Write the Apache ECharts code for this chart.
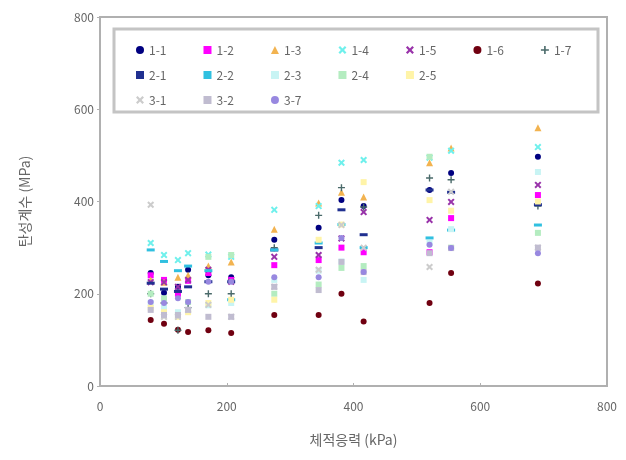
<!DOCTYPE html>
<html>
<head>
<meta charset="utf-8">
<script src="https://cdn.jsdelivr.net/npm/echarts@6/dist/echarts.min.js"></script>
<style>
  html, body { margin: 0; padding: 0; background: #fff; }
  #chart { width: 626px; height: 460px; }
</style>
</head>
<body>
<div id="chart"></div>
<script>
// 체적응력 (kPa) - shared x positions of the test stages
const stress = [80, 101, 123, 139, 171, 207, 275, 345, 381, 416, 520, 554, 691]

// 탄성계수 (MPa) per specimen
const s1_1 = [245, 202, 215, 252, 240, 236, 317, 343, 403, 390, 425, 462, 497]
const s1_2 = [240, 230, 200, 228, 245, 230, 262, 273, 300, 290, 290, 364, 414]
const s1_3 = [230, 225, 236, 240, 260, 269, 340, 397, 420, 410, 484, 516, 560]
const s1_4 = [310, 284, 273, 288, 285, 280, 382, 390, 484, 490, 495, 510, 518]
const s1_5 = [225, 225, 215, 230, 252, 226, 280, 284, 320, 377, 360, 399, 436]
const s1_6 = [143, 135, 122, 117, 121, 115, 154, 154, 200, 140, 180, 245, 222]
const s1_7 = [200, 180, 121, 170, 200, 200, 300, 370, 430, 388, 451, 447, 390]
const s2_1 = [223, 210, 205, 215, 226, 226, 295, 300, 382, 328, 425, 420, 393]
const s2_2 = [295, 270, 250, 260, 250, 187, 295, 310, 350, 300, 321, 338, 349]
const s2_3 = [180, 170, 160, 165, 175, 180, 230, 250, 270, 230, 310, 340, 464]
const s2_4 = [200, 190, 154, 182, 280, 284, 200, 220, 256, 260, 497, 300, 332]
const s2_5 = [170, 160, 150, 160, 180, 187, 187, 317, 350, 442, 403, 380, 400]
const s3_1 = [393, 150, 150, 165, 176, 150, 215, 252, 349, 300, 258, 421, 300]
const s3_2 = [165, 154, 154, 165, 150, 150, 215, 208, 269, 247, 288, 299, 300]
const s3_7 = [182, 180, 190, 182, 226, 226, 236, 236, 321, 247, 306, 299, 288]

const xTicks = [0, 200, 400, 600, 800]
const yTicks = [0, 200, 400, 600, 800]

const legendRows = [
  ['1-1', '1-2', '1-3', '1-4', '1-5', '1-6', '1-7'],
  ['2-1', '2-2', '2-3', '2-4', '2-5'],
  ['3-1', '3-2', '3-7']
]

// 마커 모양
const X_MARK = 'path://M0,2 L2,0 L5,3 L8,0 L10,2 L7,5 L10,8 L8,10 L5,7 L2,10 L0,8 L3,5 Z'
const PLUS = 'path://M4,0 H6 V4 H10 V6 H6 V10 H4 V6 H0 V4 H4 Z'

const seriesDefs = [
  { name: '1-1', values: s1_1, color: '#000080', symbol: 'circle', size: 6 },
  { name: '1-2', values: s1_2, color: '#ff00ff', symbol: 'rect', size: 6 },
  { name: '1-3', values: s1_3, color: '#f2b350', symbol: 'triangle', size: 7 },
  { name: '1-4', values: s1_4, color: '#6ff0ec', symbol: X_MARK, size: 7 },
  { name: '1-5', values: s1_5, color: '#9933aa', symbol: X_MARK, size: 7 },
  { name: '1-6', values: s1_6, color: '#700010', symbol: 'circle', size: 6 },
  { name: '1-7', values: s1_7, color: '#4a6a6a', symbol: PLUS, size: 7 },
  { name: '2-1', values: s2_1, color: '#203090', symbol: 'rect', size: [8, 3] },
  { name: '2-2', values: s2_2, color: '#30c0e0', symbol: 'rect', size: [8, 3] },
  { name: '2-3', values: s2_3, color: '#c8f4f4', symbol: 'rect', size: 6 },
  { name: '2-4', values: s2_4, color: '#b4ecc0', symbol: 'rect', size: 6 },
  { name: '2-5', values: s2_5, color: '#fff4a8', symbol: 'rect', size: 6 },
  { name: '3-1', values: s3_1, color: '#cccccc', symbol: X_MARK, size: 7 },
  { name: '3-2', values: s3_2, color: '#c0bcd0', symbol: 'rect', size: 6 },
  { name: '3-7', values: s3_7, color: '#9888e0', symbol: 'circle', size: 6 }
]

const FONT = '"Noto Sans CJK KR", "DejaVu Sans", sans-serif'

const chart = echarts.init(document.getElementById('chart'))

const option = {
  backgroundColor: '#fff',
  animation: false,
  textStyle: { fontFamily: FONT },
  grid: {
    left: 100, right: 19, top: 17, bottom: 74,
    show: true, borderColor: '#b0b0b0', borderWidth: 2, backgroundColor: '#fff'
  },
  legend: legendRows.map((row, i) => ({
    data: row,
    left: 131,
    top: 39 + i * 25,
    itemWidth: 8,
    itemHeight: 8,
    itemGap: 37,
    textStyle: { color: '#666', fontSize: 12, fontFamily: FONT }
  })),
  graphic: [{
    type: 'rect',
    shape: { x: 114, y: 29, width: 484, height: 83 },
    style: { fill: 'none', stroke: '#c4c4c4', lineWidth: 3 },
    silent: true,
    z: 0
  }],
  xAxis: {
    type: 'value',
    min: xTicks[0], max: xTicks[xTicks.length - 1], interval: 200,
    name: '체적응력 (kPa)',
    nameLocation: 'middle',
    nameGap: 47,
    nameTextStyle: { color: '#666', fontSize: 14 },
    axisLine: { lineStyle: { color: '#b0b0b0', width: 2 } },
    axisTick: { show: true, inside: true, length: 3, lineStyle: { color: '#b0b0b0' } },
    splitLine: { show: false },
    axisLabel: { color: '#666', fontSize: 12, margin: 14 }
  },
  yAxis: {
    type: 'value',
    min: yTicks[0], max: yTicks[yTicks.length - 1], interval: 200,
    name: '탄성계수 (MPa)',
    nameLocation: 'middle',
    nameGap: 68,
    nameTextStyle: { color: '#666', fontSize: 14 },
    axisLine: { show: true, lineStyle: { color: '#b0b0b0', width: 2 } },
    axisTick: { show: true, inside: false, length: 3, lineStyle: { color: '#b0b0b0' } },
    splitLine: { show: false },
    axisLabel: { color: '#666', fontSize: 12, margin: 6 }
  },
  series: seriesDefs.map(d => ({
    name: d.name,
    type: 'scatter',
    symbol: d.symbol,
    symbolSize: d.size,
    itemStyle: { color: d.color, opacity: 1 },
    data: stress.map((x, i) => [x, d.values[i]])
  }))
}

chart.setOption(option)
</script>
</body>
</html>
